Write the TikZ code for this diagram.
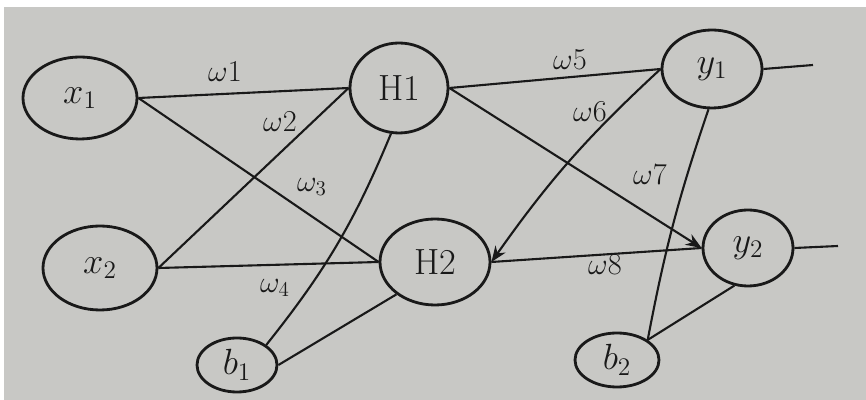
\documentclass[tikz,border=0pt]{standalone}
\usepackage{tikz}
\usepackage{xcolor}
\usetikzlibrary{arrows.meta, shapes.geometric}
\definecolor{paper}{RGB}{200,200,197}
\definecolor{pen}{RGB}{25,25,25}
\tikzset{
  unit/.style={ellipse, draw=pen, line width=1.6pt, inner sep=0pt,
               font=\huge, text=pen},
  conn/.style={draw=pen, line width=1.2pt},
  arr/.style={conn, -{Stealth[length=9pt, width=7pt]}},
  wlab/.style={font=\LARGE, text=pen},
}

\begin{document}
\begin{tikzpicture}
  \useasboundingbox (0,0) rectangle (17.32,8);
  \fill[paper] (0.08,0) rectangle (17.32,7.86);  % sheet

  % input layer
  \node[unit, minimum width=2.28cm, minimum height=1.64cm] (x1) at (1.60,6.04) {$x_1$};
  \node[unit, minimum width=2.28cm, minimum height=1.68cm] (x2) at (2.00,2.64) {$x_2$};
  % hidden layer
  \node[unit, minimum width=1.96cm, minimum height=1.80cm] (h1) at (7.98,6.24) {H1};
  \node[unit, minimum width=2.20cm, minimum height=1.72cm] (h2) at (8.70,2.76) {H2};
  \node[unit, minimum width=1.60cm, minimum height=1.08cm] (b1) at (4.74,0.70) {$b_1$};
  % output layer
  \node[unit, minimum width=2.00cm, minimum height=1.56cm] (y1) at (14.24,6.62) {$y_1$};
  \node[unit, minimum width=1.80cm, minimum height=1.52cm] (y2) at (14.96,3.04) {$y_2$};
  \node[unit, minimum width=1.68cm, minimum height=1.08cm] (b2) at (12.34,0.80) {$b_2$};

  \coordinate (out1) at (16.26,6.70);
  \coordinate (out2) at (16.76,3.08);

  \draw[conn] (x1.east) -- (h1.west);
  \draw[conn] (x1.east) -- (h2.west);
  \draw[conn] (x2.east) -- (h1.west);
  \draw[conn] (x2.east) -- (h2.west);
  \draw[conn] (h1.-100) to[bend left=8] (b1.north east);
  \draw[conn] (h2.-140) -- (b1.east);
  \draw[conn] (h1.east) -- (y1.west);
  \draw[arr]  (h1.east) -- (y2.west);
  \draw[arr]  (y1.west) to[bend right=6] (h2.east);
  \draw[conn] (h2.east) -- (y2.west);
  \draw[conn] (y1.-95) to[bend right=4] (b2.north east);
  \draw[conn] (y2.-110) -- (b2.north east);
  \draw[conn] (y1.east) -- (out1);
  \draw[conn] (y2.east) -- (out2);

  \node[wlab] (w1) at (4.50,6.56) {$\omega 1$};
  \node[wlab] (w2) at (5.60,5.56) {$\omega 2$};
  \node[wlab] (w3) at (6.24,4.26) {$\omega_3$};
  \node[wlab] (w4) at (5.50,2.24) {$\omega_4$};
  \node[wlab] (w5) at (11.40,6.80) {$\omega 5$};
  \node[wlab] (w6) at (11.80,5.76) {$\omega 6$};
  \node[wlab] (w7) at (13.00,4.50) {$\omega 7$};
  \node[wlab] (w8) at (12.10,2.70) {$\omega 8$};
\end{tikzpicture}
\end{document}
